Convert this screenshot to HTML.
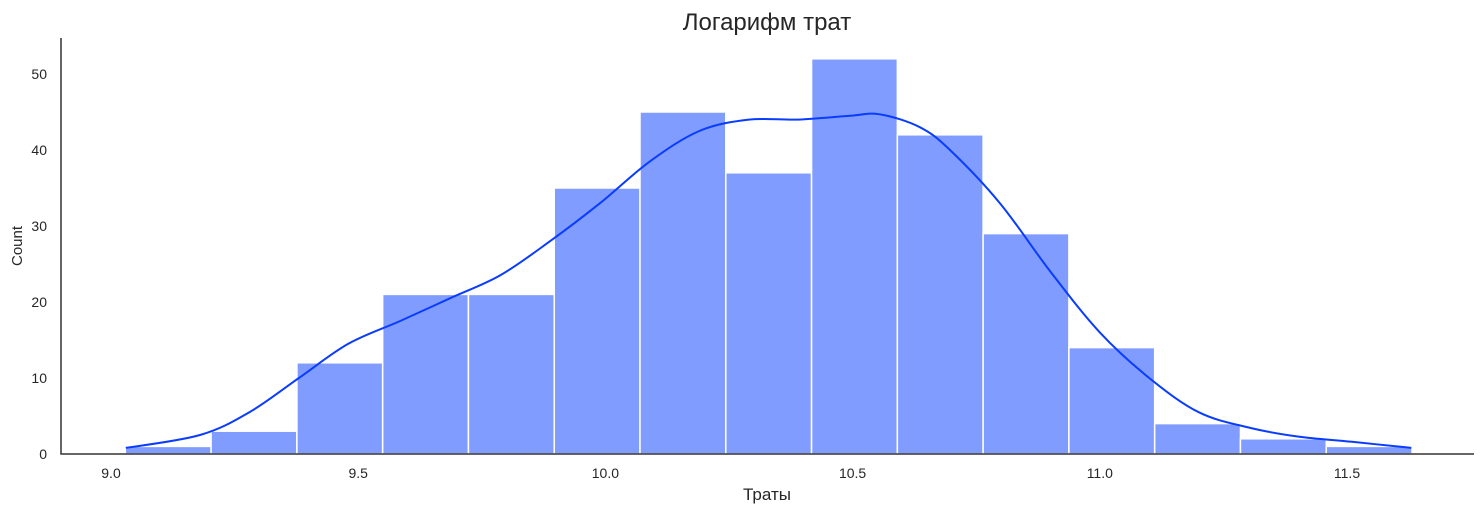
<!DOCTYPE html>
<html><head><meta charset="utf-8"><style>
body{margin:0;background:#fff;font-family:"Liberation Sans","DejaVu Sans",sans-serif}
svg text{fill:#262626}
</style></head><body>
<svg id="chart" width="1484" height="515" xmlns="http://www.w3.org/2000/svg">
<text x="767" y="30" font-size="24" text-anchor="middle">Логарифм трат</text>
<g id="bars"></g>
<path id="kde" fill="none" stroke="#0a3cff" stroke-width="2"/>
<g id="ticks"></g>
<line x1="61" y1="38" x2="61" y2="454.5" stroke="#333" stroke-width="1.5"/>
<line x1="60.5" y1="454" x2="1474" y2="454" stroke="#333" stroke-width="1.5"/>
<text x="767" y="500" font-size="17" text-anchor="middle">Траты</text>
<text x="22" y="246" font-size="15" text-anchor="middle" transform="rotate(-90 22 246)">Count</text>
</svg>
<script>
const binStart = 9.029;
const binWidth = 0.1735;
const counts = [1,3,12,21,21,35,45,37,52,42,29,14,4,2,1];
const kdeX = [9.03,9.18,9.28,9.38,9.48,9.585,9.686,9.787,9.888,9.989,10.09,10.19,10.29,10.39,10.495,10.555,10.636,10.697,10.798,10.9,11.0,11.1,11.2,11.3,11.4,11.51,11.63];
const kdeY = [0.8,2.5,5.5,10,14.5,17.5,20.5,23.5,28,33,38.5,42.5,44,44,44.5,44.7,43,40,33,24,16,10,5.5,3.5,2.3,1.6,0.8];
const xTicks = [9.0,9.5,10.0,10.5,11.0,11.5];
const yTicks = [0,10,20,30,40,50];
const xs = v => 111 + (v - 9) * 494.4;
const ys = c => 454 - c * 7.6;
const NS = "http://www.w3.org/2000/svg";
const bars = document.getElementById('bars');
counts.forEach((c,i)=>{
  const r = document.createElementNS(NS,'rect');
  const x0 = xs(binStart + i*binWidth), x1 = xs(binStart + (i+1)*binWidth);
  r.setAttribute('x', x0); r.setAttribute('width', x1-x0);
  r.setAttribute('y', ys(c)); r.setAttribute('height', ys(0)-ys(c));
  r.setAttribute('fill','#809cff'); r.setAttribute('stroke','#fff'); r.setAttribute('stroke-width','1.5');
  
  
  bars.appendChild(r);
});
const P = kdeX.map((v,i)=>[xs(v), ys(kdeY[i])]);
let d = 'M' + P[0][0].toFixed(1) + ',' + P[0][1].toFixed(1);
for (let i=0;i<P.length-1;i++){
  const p0 = P[Math.max(i-1,0)], p1 = P[i], p2 = P[i+1], p3 = P[Math.min(i+2,P.length-1)];
  const c1 = [p1[0]+(p2[0]-p0[0])/6, p1[1]+(p2[1]-p0[1])/6];
  const c2 = [p2[0]-(p3[0]-p1[0])/6, p2[1]-(p3[1]-p1[1])/6];
  d += 'C'+c1[0].toFixed(1)+','+c1[1].toFixed(1)+' '+c2[0].toFixed(1)+','+c2[1].toFixed(1)+' '+p2[0].toFixed(1)+','+p2[1].toFixed(1);
}
document.getElementById('kde').setAttribute('d', d);
const tg = document.getElementById('ticks');
xTicks.forEach(v=>{
  const t = document.createElementNS(NS,'text');
  t.setAttribute('x', xs(v)); t.setAttribute('y', 478); t.setAttribute('font-size','14'); t.setAttribute('text-anchor','middle');
  t.textContent = v.toFixed(1);
  
  
  tg.appendChild(t);
});
yTicks.forEach(v=>{
  const t = document.createElementNS(NS,'text');
  t.setAttribute('x', 47); t.setAttribute('y', ys(v)+5); t.setAttribute('font-size','14'); t.setAttribute('text-anchor','end');
  t.textContent = v;
  
  
  tg.appendChild(t);
});
</script>
</body></html>
